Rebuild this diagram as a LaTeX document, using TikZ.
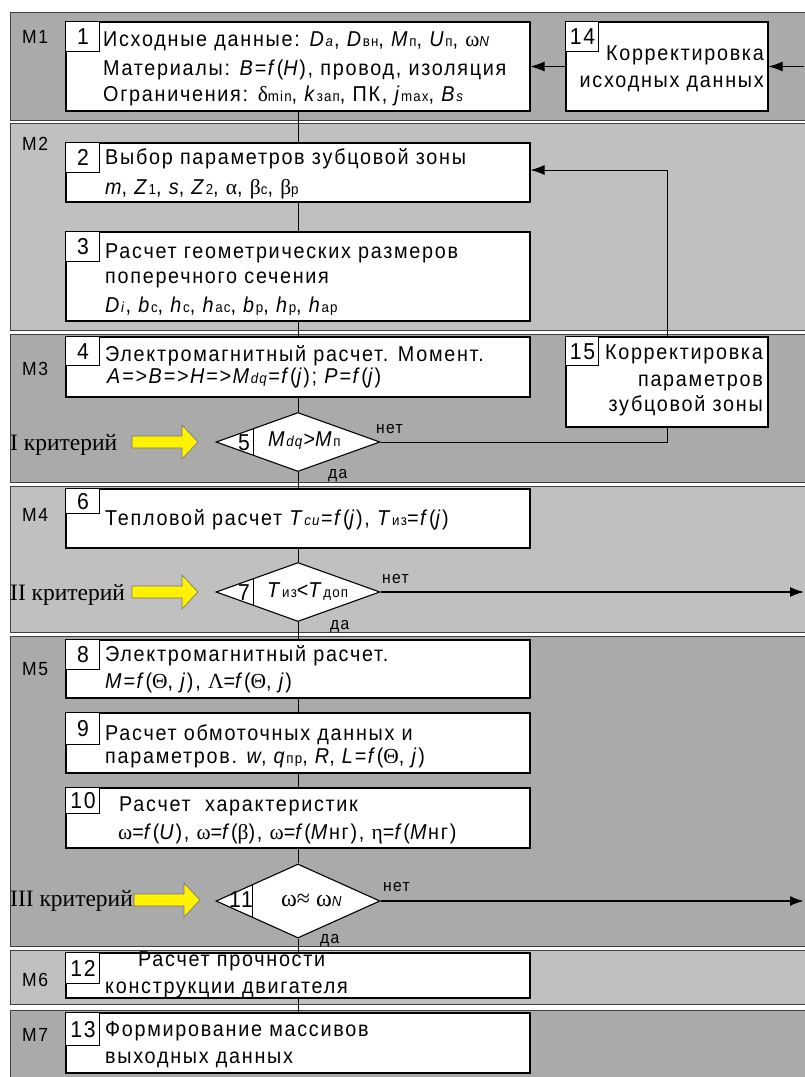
\documentclass[tikz,border=0pt]{standalone}
\usepackage{fontspec}
\setmainfont{Liberation Sans}[FakeStretch=0.92,LetterSpace=8]
\newfontfamily\grk{Liberation Serif}
\newfontfamily\critf{Liberation Serif}
\usetikzlibrary{arrows.meta,shapes.geometric,calc}
\definecolor{bandA}{RGB}{170,170,170}
\definecolor{bandB}{RGB}{192,192,192}
\newcommand\vv[1]{\textit{#1}}
\newcommand\sbs[1]{{\fontsize{14.5}{14.5}\selectfont #1}}
\newcommand\gr[1]{{\grk #1}}
\tikzset{
  band/.style={draw=black!75,line width=0.8pt},
  box/.style={draw=black,fill=white,line width=1.1pt,inner sep=0pt},
  numbox/.style={draw=black,fill=white,line width=1pt,inner sep=0pt,anchor=north west,
    font=\fontsize{23}{23}\selectfont},
  txt/.style={anchor=base west,inner sep=0pt,font=\fontsize{21.5}{21.5}\selectfont},
  rtxt/.style={anchor=base east,inner sep=0pt,font=\fontsize{21.5}{21.5}\selectfont},
  mlab/.style={anchor=base west,inner sep=0pt,font=\fontsize{19}{19}\selectfont},
  small/.style={anchor=base west,inner sep=0pt,font=\fontsize{17}{17}\selectfont},
  crit/.style={anchor=base west,inner sep=0pt,font=\critf\fontsize{23.5}{23.5}\selectfont},
  dia/.style={diamond,draw=black,fill=white,line width=1.1pt,inner sep=0pt},
  conn/.style={draw=black,line width=1pt},
  arr/.style={conn,-{Latex[length=14pt,width=10pt]}},
  yarrow/.style={fill=yellow,draw=black!55,line width=0.6pt},
}
\begin{document}
\begin{tikzpicture}[x=1pt,y=-1pt]
\useasboundingbox (0,0) rectangle (804,1077);
% bands
\path[band,fill=bandA] (10,12) rectangle (812,120);
\path[band,fill=bandB] (10,123) rectangle (812,330);
\path[band,fill=bandA] (10,334) rectangle (812,482);
\path[band,fill=bandB] (10,486) rectangle (812,632);
\path[band,fill=bandA] (10,636) rectangle (812,946);
\path[band,fill=bandB] (10,950) rectangle (812,1004);
\path[band,fill=bandA] (10,1010) rectangle (812,1090);
% band labels
\node[mlab] (m1) at (22,43.3) {M1};
\node[mlab] (m2) at (22,150) {M2};
\node[mlab] (m3) at (22,375) {M3};
\node[mlab] (m4) at (22,521.7) {M4};
\node[mlab] (m5) at (22,675) {M5};
\node[mlab] (m6) at (22,986.7) {M6};
\node[mlab] (m7) at (22,1041.7) {M7};
% boxes
\node[box,minimum width=464pt,minimum height=89pt] (b1) at (298,66.5) {};
\node[box,minimum width=202pt,minimum height=89pt] (b14) at (667,66.5) {};
\node[box,minimum width=464pt,minimum height=59pt] (b2) at (298,172.5) {};
\node[box,minimum width=464pt,minimum height=89pt] (b3) at (298,276.5) {};
\node[box,minimum width=464pt,minimum height=60pt] (b4) at (298,367) {};
\node[box,minimum width=202pt,minimum height=90pt] (b15) at (667,382) {};
\node[box,minimum width=464pt,minimum height=59pt] (b6) at (298,518.5) {};
\node[box,minimum width=464pt,minimum height=58pt] (b8) at (298,669) {};
\node[box,minimum width=464pt,minimum height=60pt] (b9) at (298,743) {};
\node[box,minimum width=464pt,minimum height=60pt] (b10) at (298,818) {};
\node[box,minimum width=464pt,minimum height=45pt] (b12) at (298,975.5) {};
\node[box,minimum width=464pt,minimum height=60pt] (b13) at (298,1043) {};
% diamonds
\node[dia,minimum width=164pt,minimum height=59pt] (d5) at (298,442) {};
\node[dia,minimum width=164pt,minimum height=59pt] (d7) at (298,592) {};
\node[dia,minimum width=164pt,minimum height=74pt] (d11) at (298,901) {};
\draw[conn] ($(d5.west)!0.463!(d5.north)$) coordinate (d5a) -- ($(d5.west)!0.463!(d5.south)$) coordinate (d5b);
\draw[conn] ($(d7.west)!0.463!(d7.north)$) coordinate (d7a) -- ($(d7.west)!0.463!(d7.south)$) coordinate (d7b);
\draw[conn] ($(d11.west)!0.45!(d11.north)$) coordinate (d11a) -- ($(d11.west)!0.45!(d11.south)$) coordinate (d11b);
% number boxes
\node[numbox,minimum width=34pt,minimum height=30pt] (n1) at (b1.north west) {1};
\node[numbox,minimum width=33pt,minimum height=30pt] (n14) at (b14.north west) {14};
\node[numbox,minimum width=34pt,minimum height=30pt] (n2) at (b2.north west) {2};
\node[numbox,minimum width=34pt,minimum height=30pt] (n3) at (b3.north west) {3};
\node[numbox,minimum width=34pt,minimum height=29pt] (n4) at (b4.north west) {4};
\node[numbox,minimum width=33pt,minimum height=29pt] (n15) at (b15.north west) {15};
\node[numbox,minimum width=34pt,minimum height=25pt] (n6) at (b6.north west) {6};
\node[numbox,minimum width=34pt,minimum height=30pt] (n8) at (b8.north west) {8};
\node[numbox,minimum width=34pt,minimum height=32pt] (n9) at (b9.north west) {9};
\node[numbox,minimum width=34pt,minimum height=26pt] (n10) at (b10.north west) {10};
\node[numbox,minimum width=34pt,minimum height=31pt] (n12) at (b12.north west) {12};
\node[numbox,minimum width=34pt,minimum height=33pt] (n13) at (b13.north west) {13};
% connectors
\draw[conn] (b1.south) -- (b2.north);
\draw[conn] (b2.south) -- (b3.north);
\draw[conn] (b3.south) -- (b4.north);
\draw[conn] (b4.south) -- (d5.north);
\draw[conn] (d5.south) -- (b6.north);
\draw[conn] (b6.south) -- (d7.north);
\draw[conn] (d7.south) -- (b8.north);
\draw[conn] (b8.south) -- (b9.north);
\draw[conn] (b9.south) -- (b10.north);
\draw[conn] (b10.south) -- (d11.north);
\draw[conn] (d11.south) -- (b12.north);
\draw[conn] (b12.south) -- (b13.north);
\draw[conn] (d5.east) -| (b15.south);
\coordinate (k2) at (667,170);
\draw[arr] (b15.north) -- (k2) -- (k2 -| b2.east);
\coordinate (r14) at (804,66.5);
\draw[arr] (r14) -- (b14.east);
\draw[arr] (b14.west) -- (b1.east);
\coordinate (r7) at (804,592);
\draw[arr,line width=1.4pt] (d7.east) -- (r7);
\coordinate (r11) at (804,901);
\draw[arr,line width=2.2pt] (d11.east) -- (r11);
% texts box 1
\node[txt] (t1a) at (103,46.7) {Исходные данные: \vv{D}\sbs{\vv{a}}, \vv{D}\sbs{вн}, \vv{M}\sbs{п}, \vv{U}\sbs{п}, \gr{ω}\sbs{\vv{N}}};
\node[txt] (t1b) at (103,75) {Материалы: \vv{B=f}(\vv{H}), провод, изоляция};
\node[txt] (t1c) at (103,101.7) {Ограничения: \gr{δ}\sbs{min}, \vv{k}\sbs{зап}, ПК, \vv{j}\sbs{max}, \vv{B}\sbs{\vv{s}}};
% box 14
\node[rtxt] (t14a) at (764,60) {Корректировка};
\node[rtxt] (t14b) at (764,87) {исходных данных};
% box 2
\node[txt] (t2a) at (105,164) {Выбор параметров зубцовой зоны};
\node[txt] (t2b) at (105,194.5) {\vv{m}, \vv{Z}\sbs{1}, \vv{s}, \vv{Z}\sbs{2}, \gr{α}, \gr{β}\sbs{с}, \gr{β}\sbs{р}};
% box 3
\node[txt] (t3a) at (105,258) {Расчет геометрических размеров};
\node[txt] (t3b) at (105,283) {поперечного сечения};
\node[txt] (t3c) at (105,312) {\vv{D}\sbs{\vv{i}}, \vv{b}\sbs{с}, \vv{h}\sbs{с}, \vv{h}\sbs{ас}, \vv{b}\sbs{р}, \vv{h}\sbs{р}, \vv{h}\sbs{ар}};
% box 4
\node[txt] (t4a) at (105,361.7) {Электромагнитный расчет. Момент.};
\node[txt] (t4b) at (107,383.3) {\vv{A=>B=>H=>M}\sbs{\vv{dq}}\vv{=f}(\vv{j}); \vv{P=f}(\vv{j})};
% box 15
\node[rtxt] (t15a) at (763,359) {Корректировка};
\node[rtxt] (t15b) at (763,386.7) {параметров};
\node[rtxt] (t15c) at (763,411.7) {зубцовой зоны};
% box 6
\node[txt] (t6a) at (105,525) {Тепловой расчет \vv{T}\sbs{\vv{cu}}\vv{=f}(\vv{j}), \vv{T}\sbs{из}\vv{=f}(\vv{j})};
% box 8
\node[txt] (t8a) at (105,661.7) {Электромагнитный расчет.};
\node[txt] (t8b) at (105,688) {\vv{M=f}(\gr{Θ}, \vv{j}), \gr{Λ}=\vv{f}(\gr{Θ}, \vv{j})};
% box 9
\node[txt] (t9a) at (105,740) {Расчет обмоточных данных и};
\node[txt] (t9b) at (105,763) {параметров. \vv{w}, \vv{q}\sbs{пр}, \vv{R}, \vv{L=f}(\gr{Θ}, \vv{j})};
% box 10
\node[txt] (t10a) at (119,811.7) {Расчет\ \ характеристик};
\node[txt] (t10b) at (118,839) {\gr{ω}=\vv{f}(\vv{U}), \gr{ω}=\vv{f}(\gr{β}), \gr{ω}=\vv{f}(\vv{M}нг), \gr{η}=\vv{f}(\vv{M}нг)};
% box 12
\node[txt] (t12a) at (138,966.7) {Расчет прочности};
\node[txt] (t12b) at (105,993) {конструкции двигателя};
% box 13
\node[txt] (t13a) at (105,1036) {Формирование массивов};
\node[txt] (t13b) at (105,1063) {выходных данных};
% diamond texts
\node[txt] (dn5) at (238,450) {\fontsize{23}{23}\selectfont 5};
\node[txt] (dt5) at (268,446.7) {\vv{M}\sbs{\vv{dq}}>\vv{M}\sbs{п}};
\node[txt] (dn7) at (238,600) {\fontsize{23}{23}\selectfont 7};
\node[txt] (dt7) at (267,597) {\vv{T}\sbs{из}<\vv{T}\sbs{доп}};
\node[txt] (dn11) at (229,907) {\fontsize{23}{23}\selectfont 11};
\node[txt] (dt11) at (281,906) {{\fontsize{24}{24}\selectfont\gr{ω≈ ω}}\sbs{\vv{N}}};
% yes / no
\node[small] (no5) at (376,433) {нет};
\node[small] (yes5) at (328,478) {да};
\node[small] (no7) at (382,583) {нет};
\node[small] (yes7) at (330,629) {да};
\node[small] (no11) at (383,891.7) {нет};
\node[small] (yes11) at (320,943) {да};
% criteria
\node[crit] (c1) at (10,450) {I критерий};
\node[crit] (c2) at (10,600) {II критерий};
\node[crit] (c3) at (10,906.7) {III критерий};
\path[yarrow] (132,436) -- (182,436) -- (182,425) -- (198,442) -- (182,459) -- (182,448) -- (132,448) -- cycle;
\path[yarrow] (132,586) -- (182,586) -- (182,575) -- (198,592) -- (182,609) -- (182,598) -- (132,598) -- cycle;
\path[yarrow] (134,894) -- (184,894) -- (184,883) -- (200,900) -- (184,917) -- (184,906) -- (134,906) -- cycle;
\end{tikzpicture}
\end{document}
